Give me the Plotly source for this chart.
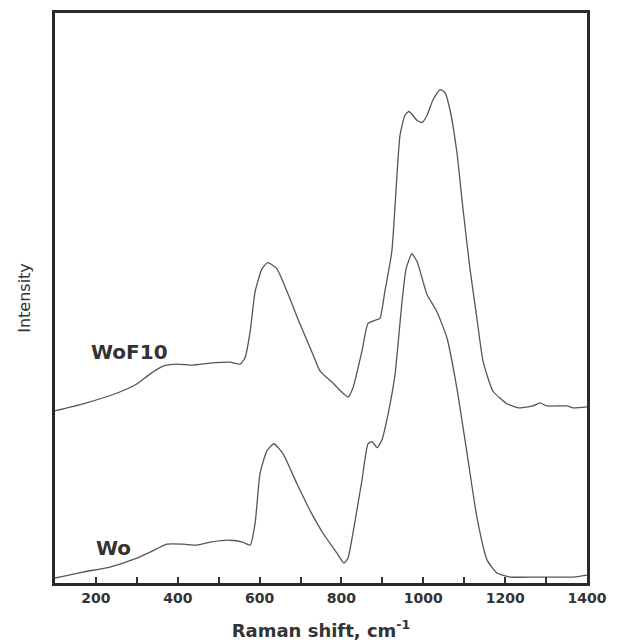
import plotly.graph_objects as go

# WoF10 spectrum (upper trace)
wof10_x = [100, 168, 252, 300, 332, 364, 398, 437, 479, 528, 552, 564, 577, 589, 606, 620, 642, 667,
           699, 730, 748, 779, 816, 828, 850, 865, 882, 894, 906, 923, 943, 955, 965, 985, 997, 1009,
           1024, 1041, 1053, 1065, 1082, 1097, 1114, 1131, 1146, 1170, 1205, 1236, 1268, 1285, 1302,
           1351, 1366, 1400]
wof10_y = [173, 180, 191, 200, 210, 218, 220, 219, 221, 222, 220, 226, 253, 293, 316, 322, 316, 293,
           260, 230, 213, 201, 187, 196, 233, 261, 264, 266, 293, 333, 450, 470, 474, 465, 463, 470,
           486, 496, 493, 476, 433, 376, 316, 266, 223, 193, 180, 176, 178, 181, 178,
           178, 176, 177]

# Wo spectrum (lower trace)
wo_x = [100, 168, 234, 300, 332, 374, 413, 447, 479, 528, 559, 577, 589, 601, 618, 635, 657, 691,
        723, 755, 789, 806, 816, 828, 850, 865, 875, 887, 899, 914, 931, 948, 958, 972, 985, 1009,
        1033, 1058, 1082, 1107, 1131, 1156, 1180, 1212, 1278, 1366, 1400]
wo_y = [5, 11, 16, 25, 31, 39, 39, 38, 41, 43, 41, 38, 60, 110, 133, 140, 130, 100,
        73, 50, 30, 20, 25, 50, 103, 140, 142, 136, 144, 170, 210, 283, 316, 331, 323, 290,
        273, 246, 196, 130, 66, 23, 10, 6, 6, 6, 8]

labels = ["WoF10", "Wo"]
label_x = [283, 244]
label_y = [232, 35]

x_ticks = [200, 400, 600, 800, 1000, 1200, 1400]

line_color = "#555555"
font_family = "DejaVu Sans, Verdana, sans-serif"

fig = go.Figure()
for xs, ys in [(wof10_x, wof10_y), (wo_x, wo_y)]:
    fig.add_trace(go.Scatter(x=xs, y=ys, mode="lines",
                             line=dict(color=line_color, width=1.3, shape="spline", smoothing=0.5),
                             showlegend=False, hoverinfo="skip"))

for t, xv, yv in zip(labels, label_x, label_y):
    fig.add_annotation(x=xv, y=yv, text="<b>" + t + "</b>", showarrow=False,
                       font=dict(family=font_family, size=20, color="#333333"))

fig.update_layout(
    width=620, height=641,
    margin=dict(l=47, r=41, t=2, b=66),
    paper_bgcolor="white", plot_bgcolor="white",
    font=dict(family=font_family, color="#333333"),
)
fig.update_xaxes(
    range=[100, 1400], tickvals=x_ticks, ticktext=["<b>%d</b>" % v for v in x_ticks],
    ticks="inside", ticklen=6, tickwidth=1.5,
    tickcolor="#333333", showgrid=False, zeroline=False,
    showline=True, mirror=True, linewidth=2.5, linecolor="#2a2a2a",
    tickfont=dict(size=14, color="#333333"),
    minor=dict(dtick=100, ticks="inside", ticklen=6, tickwidth=1.5, tickcolor="#333333", showgrid=False),
    title=dict(text="<b>Raman shift, cm<sup>-1</sup></b>", font=dict(size=18, color="#333333"), standoff=20),
)
fig.update_yaxes(
    range=[0, 573], showticklabels=False, ticks="", showgrid=False, zeroline=False,
    showline=True, mirror=True, linewidth=2.5, linecolor="#2a2a2a",
    title=dict(text="Intensity", font=dict(size=16, color="#333333"), standoff=18),
)

fig.write_html("out.html")
